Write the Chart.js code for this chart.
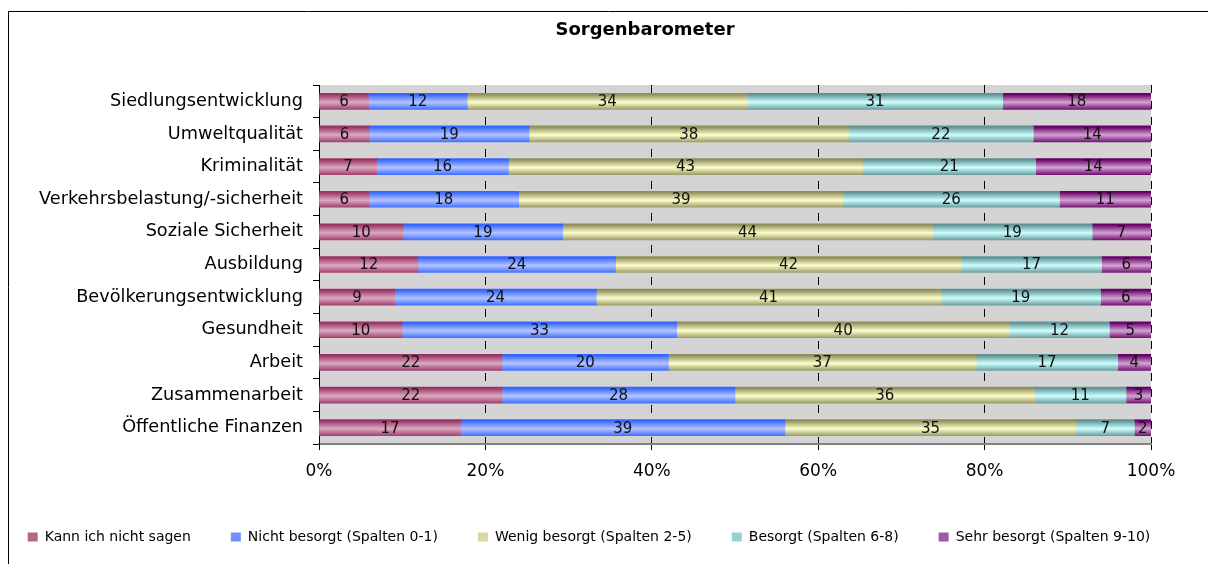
<!DOCTYPE html>
<html>
<head>
<meta charset="utf-8">
<script src="https://cdn.jsdelivr.net/npm/chart.js@4.4.1/dist/chart.umd.min.js"></script>
<style>
  html, body { margin: 0; padding: 0; background: #fff; }
  #wrap { width: 1208px; height: 564px; position: relative; }
</style>
</head>
<body>
<div id="wrap"><canvas id="chart"></canvas></div>
<script>
const categories = [
  "Siedlungsentwicklung", "Umweltqualität", "Kriminalität",
  "Verkehrsbelastung/-sicherheit", "Soziale Sicherheit", "Ausbildung",
  "Bevölkerungsentwicklung", "Gesundheit", "Arbeit", "Zusammenarbeit",
  "Öffentliche Finanzen"
];
const seriesNames = [
  "Kann ich nicht sagen", "Nicht besorgt (Spalten 0-1)", "Wenig besorgt (Spalten 2-5)",
  "Besorgt (Spalten 6-8)", "Sehr besorgt (Spalten 9-10)"
];
const kannNicht    = [6, 6, 7, 6, 10, 12, 9, 10, 22, 22, 17];
const nichtBesorgt = [12, 19, 16, 18, 19, 24, 24, 33, 20, 28, 39];
const wenigBesorgt = [34, 38, 43, 39, 44, 42, 41, 40, 37, 36, 35];
const besorgt      = [31, 22, 21, 26, 19, 17, 19, 12, 17, 11, 7];
const sehrBesorgt  = [18, 14, 14, 11, 7, 6, 6, 5, 4, 3, 2];
const xTicks = [0, 20, 40, 60, 80, 100];

const series = [kannNicht, nichtBesorgt, wenigBesorgt, besorgt, sehrBesorgt];
const darkColors  = ["#993366", "#3366ff", "#8f8f5c", "#5f9393", "#660066"];
const lightColors = ["#dcaac0", "#b4c4ff", "#ffffcc", "#ccffff", "#d4a4d4"];
const midColors   = ["#b8678c", "#7090ff", "#d8d8a0", "#99d0d0", "#a058a0"];

// 100% gestapelt: jede Zeile auf ihre Summe normieren
const totals = categories.map((_, i) => series.reduce((s, arr) => s + arr[i], 0));

const barFill = (dark, light) => (ctx) => {
  const chart = ctx.chart;
  const y = chart.scales && chart.scales.y;
  if (ctx.type !== "data" || !y) return light;
  const c = y.getPixelForValue(ctx.dataIndex) + 1;
  const g = chart.ctx.createLinearGradient(0, c - 8, 0, c + 8);
  g.addColorStop(0, dark);
  g.addColorStop(0.5, light);
  g.addColorStop(1, dark);
  return g;
};

const datasets = series.map((arr, k) => ({
  label: seriesNames[k],
  raw: arr,
  data: arr.map((v, i) => v / totals[i] * 100),
  backgroundColor: barFill(darkColors[k], lightColors[k]),
  borderWidth: 0,
  barThickness: 16
}));

const frameAndBackground = {
  id: "frameAndBackground",
  beforeLayout(chart) {
    // Legende in einer Zeile halten
    const lg = chart.legend;
    if (lg && !lg._oneRow) {
      const origFit = lg.fit;
      lg.fit = function () {
        const mw = this.maxWidth;
        this.maxWidth = 3000;
        origFit.call(this);
        this.maxWidth = mw;
        this.width = mw;
      };
      lg._oneRow = true;
    }
  },
  afterLayout(chart) {
    if (chart.titleBlock) chart.titleBlock.left += 114;
    if (chart.legend) {
      chart.legend.left -= 58;
      chart.legend.right += 60;
    }
  },
  beforeDraw(chart) {
    const { ctx, chartArea: a } = chart;
    ctx.save();
    ctx.fillStyle = "#d4d4d4";
    ctx.fillRect(a.left, a.top, a.right - a.left, a.bottom - a.top);
    ctx.strokeStyle = "#000";
    ctx.lineWidth = 1;
    ctx.beginPath();
    ctx.moveTo(8.5, chart.height);
    ctx.lineTo(8.5, 11.5);
    ctx.lineTo(chart.width, 11.5);
    ctx.stroke();
    ctx.restore();
  }
};

const valueLabels = {
  id: "valueLabels",
  afterDatasetsDraw(chart) {
    const ctx = chart.ctx;
    ctx.save();
    ctx.font = "15px 'DejaVu Sans'";
    ctx.fillStyle = "#111";
    ctx.textAlign = "center";
    ctx.textBaseline = "middle";
    chart.data.datasets.forEach((ds, di) => {
      chart.getDatasetMeta(di).data.forEach((bar, i) => {
        ctx.fillText(String(ds.raw[i]), (bar.x + bar.base) / 2, bar.y + 1);
      });
    });
    ctx.restore();
  }
};

new Chart(document.getElementById("chart"), {
  type: "bar",
  data: { labels: categories, datasets: datasets },
  plugins: [frameAndBackground, valueLabels],
  options: {
    indexAxis: "y",
    responsive: true,
    maintainAspectRatio: false,
    animation: false,
    devicePixelRatio: 1,
    layout: { padding: { left: 25, right: 57, top: 0, bottom: 10 } },
    scales: {
      x: {
        stacked: true,
        min: 0,
        max: 100,
        afterBuildTicks: (scale) => { scale.ticks = xTicks.map(v => ({ value: v })); },
        afterFit: (scale) => { scale.height = 46; },
        ticks: {
          callback: (v) => v + "%",
          color: "#000",
          padding: 11,
          maxRotation: 0,
          font: { family: "'DejaVu Sans'", size: 17 }
        },
        grid: {
          color: "#000",
          lineWidth: 1,
          tickLength: 6,
          tickColor: "#000",
          tickBorderDash: []
        },
        border: { display: true, color: "#808080", width: 2, dash: [8, 8] }
      },
      y: {
        stacked: true,
        afterFit: (scale) => { scale.width = 294; },
        ticks: {
          color: "#000",
          padding: 10,
          font: { family: "'DejaVu Sans'", size: 17.7 }
        },
        grid: {
          drawOnChartArea: false,
          drawTicks: true,
          tickLength: 6,
          color: "#000",
          tickColor: "#000"
        },
        border: { display: true, color: "#000", width: 1 }
      }
    },
    plugins: {
      tooltip: { enabled: false },
      title: {
        display: true,
        text: "Sorgenbarometer",
        color: "#000",
        font: { family: "'DejaVu Sans'", size: 18, weight: "bold" },
        padding: { top: 20, bottom: 43.4 }
      },
      legend: {
        position: "bottom",
        labels: {
          color: "#000",
          boxWidth: 10,
          boxHeight: 9,
          padding: 40,
          font: { family: "'DejaVu Sans'", size: 14 },
          generateLabels: (chart) => chart.data.datasets.map((ds, i) => ({
            text: ds.label,
            fillStyle: midColors[i],
            strokeStyle: darkColors[i],
            lineWidth: 0,
            datasetIndex: i,
            hidden: false
          }))
        }
      }
    }
  }
});
</script>
</body>
</html>
